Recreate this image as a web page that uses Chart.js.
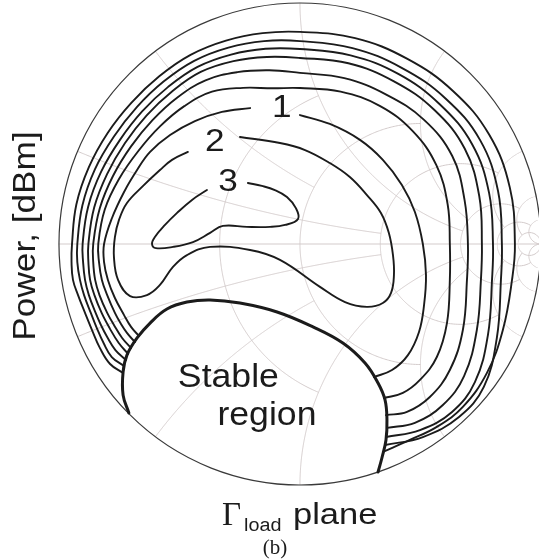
<!DOCTYPE html>
<html><head><meta charset="utf-8">
<script src="https://cdn.jsdelivr.net/npm/chart.js@4/dist/chart.umd.min.js"></script>
<style>html,body{margin:0;padding:0;background:#fff;overflow:hidden}canvas{display:block}</style>
</head><body>
<canvas id="c" width="539" height="560"></canvas>
<script>
// ---- Data: reflection-coefficient coordinates [Re(Γ), Im(Γ)] ----
const stableBoundary = [[-0.710,-0.701],[-0.734,-0.627],[-0.734,-0.531],[-0.718,-0.461],[-0.676,-0.390],[-0.622,-0.328],[-0.552,-0.270],[-0.469,-0.241],[-0.373,-0.232],[-0.249,-0.245],[-0.095,-0.282],[0.054,-0.344],[0.178,-0.411],[0.270,-0.494],[0.324,-0.577],[0.353,-0.647],[0.361,-0.730],[0.357,-0.813],[0.340,-0.888],[0.324,-0.946]];

const contour1Left = [[-0.207,0.564],[-0.324,0.548],[-0.436,0.510],[-0.539,0.452],[-0.622,0.382],[-0.676,0.307],[-0.730,0.216],[-0.780,0.108],[-0.813,0],[-0.813,-0.075],[-0.797,-0.149],[-0.768,-0.224],[-0.730,-0.295],[-0.701,-0.344],[-0.668,-0.382]];
const contour1Right = [[0,0.535],[0.124,0.498],[0.249,0.432],[0.344,0.349],[0.423,0.245],[0.477,0.133],[0.510,0],[0.523,-0.129],[0.515,-0.253],[0.494,-0.365],[0.448,-0.461],[0.382,-0.523],[0.307,-0.552]];

const contour2 = [[-0.465,0.382],[-0.531,0.349],[-0.581,0.307],[-0.651,0.241],[-0.718,0.170],[-0.751,0.100],[-0.768,0.029],[-0.772,-0.054],[-0.755,-0.149],[-0.705,-0.216],[-0.635,-0.212],[-0.581,-0.170],[-0.527,-0.095],[-0.469,-0.046],[-0.373,-0.012],[-0.207,-0.025],[-0.083,-0.066],[0.083,-0.178],[0.187,-0.241],[0.278,-0.261],[0.344,-0.245],[0.378,-0.203],[0.390,-0.129],[0.386,-0.046],[0.369,0.046],[0.336,0.129],[0.278,0.203],[0.207,0.278],[0.124,0.336],[0.021,0.390],[-0.083,0.419],[-0.249,0.444]];

const contour3 = [[-0.386,0.224],[-0.448,0.183],[-0.510,0.129],[-0.560,0.079],[-0.602,0.029],[-0.614,0],[-0.598,-0.017],[-0.527,-0.012],[-0.444,0.008],[-0.373,0.046],[-0.320,0.075],[-0.220,0.071],[-0.124,0.071],[-0.062,0.079],[-0.008,0.104],[-0.017,0.149],[-0.054,0.195],[-0.104,0.224],[-0.158,0.241],[-0.216,0.253]];

const outer1 = [[-0.685,-0.407],[-0.718,-0.369],[-0.745,-0.328],[-0.768,-0.286],[-0.800,-0.212],[-0.822,-0.149],[-0.834,-0.075],[-0.837,0],[-0.810,0.143],[-0.749,0.273],[-0.670,0.387],[-0.581,0.488],[-0.480,0.572],[-0.365,0.632],[-0.236,0.648],[-0.114,0.646],[0,0.647],[0.169,0.632],[0.331,0.573],[0.468,0.468],[0.566,0.327],[0.613,0.164],[0.622,0],[0.622,-0.149],[0.610,-0.328],[0.568,-0.469],[0.498,-0.564],[0.427,-0.618],[0.349,-0.639]];

const outer2 = [[-0.701,-0.432],[-0.738,-0.390],[-0.772,-0.336],[-0.800,-0.286],[-0.832,-0.212],[-0.850,-0.149],[-0.858,-0.075],[-0.858,0],[-0.831,0.147],[-0.776,0.282],[-0.701,0.405],[-0.612,0.514],[-0.510,0.607],[-0.392,0.679],[-0.260,0.713],[-0.127,0.721],[0,0.710],[0.184,0.688],[0.358,0.620],[0.515,0.515],[0.632,0.365],[0.683,0.183],[0.697,0],[0.693,-0.149],[0.676,-0.357],[0.622,-0.523],[0.539,-0.635],[0.444,-0.697],[0.357,-0.710]];

const outer3 = [[-0.713,-0.456],[-0.752,-0.411],[-0.790,-0.349],[-0.823,-0.286],[-0.853,-0.212],[-0.871,-0.149],[-0.878,-0.075],[-0.878,0],[-0.854,0.151],[-0.800,0.291],[-0.726,0.419],[-0.636,0.534],[-0.531,0.633],[-0.412,0.714],[-0.276,0.759],[-0.137,0.776],[0,0.772],[0.201,0.750],[0.390,0.675],[0.557,0.557],[0.684,0.395],[0.744,0.199],[0.755,0],[0.751,-0.149],[0.734,-0.357],[0.681,-0.548],[0.593,-0.668],[0.477,-0.742],[0.361,-0.763]];

const outer4 = [[-0.722,-0.481],[-0.766,-0.440],[-0.800,-0.386],[-0.826,-0.336],[-0.848,-0.286],[-0.876,-0.212],[-0.892,-0.149],[-0.900,-0.075],[-0.902,0],[-0.879,0.155],[-0.825,0.300],[-0.747,0.432],[-0.655,0.550],[-0.547,0.652],[-0.425,0.735],[-0.286,0.786],[-0.143,0.810],[0,0.809],[0.210,0.783],[0.408,0.706],[0.580,0.580],[0.715,0.413],[0.785,0.211],[0.801,0],[0.797,-0.149],[0.780,-0.378],[0.726,-0.573],[0.631,-0.697],[0.498,-0.772],[0.357,-0.801]];

const outer5 = [[-0.730,-0.506],[-0.781,-0.469],[-0.815,-0.411],[-0.843,-0.349],[-0.868,-0.286],[-0.896,-0.212],[-0.913,-0.149],[-0.924,-0.075],[-0.924,0],[-0.903,0.160],[-0.851,0.310],[-0.772,0.446],[-0.677,0.568],[-0.566,0.674],[-0.439,0.760],[-0.297,0.815],[-0.149,0.842],[0,0.842],[0.218,0.813],[0.422,0.731],[0.604,0.604],[0.747,0.432],[0.822,0.220],[0.838,0],[0.834,-0.149],[0.817,-0.390],[0.763,-0.593],[0.660,-0.718],[0.510,-0.801],[0.353,-0.834]];

const outer6 = [[-0.734,-0.535],[-0.788,-0.498],[-0.830,-0.432],[-0.863,-0.357],[-0.892,-0.286],[-0.921,-0.212],[-0.942,-0.149],[-0.948,-0.075],[-0.946,0],[-0.928,0.164],[-0.876,0.319],[-0.798,0.461],[-0.699,0.587],[-0.584,0.696],[-0.454,0.785],[-0.307,0.844],[-0.155,0.875],[0,0.880],[0.229,0.854],[0.444,0.769],[0.635,0.635],[0.785,0.454],[0.871,0.234],[0.892,0],[0.880,-0.149],[0.842,-0.357],[0.776,-0.535],[0.676,-0.676],[0.568,-0.759],[0.456,-0.813],[0.344,-0.863]];

// Contour labels and region label (text + anchor in Γ coordinates)
const contourLabels = ['1', '2', '3'];
const contourLabelPos = [[-0.075,0.564],[-0.353,0.423],[-0.299,0.257]];
const regionLines = ['Stable', 'region'];
const regionPos = [[-0.297,-0.593],[-0.137,-0.751]];

// Smith chart grid: constant-resistance circles and constant-reactance arcs with their extents
const gridR = [0.5, 1, 2, 5, 10, 20];
const gridRExtent = [1, 2, 5, 10, 20, Infinity];
const gridX = [0.2, 0.5, 1, 2, 5, 10, 20];
const gridXExtent = [2, 1, 5, 5, 10, 20, Infinity];

const yTitle = 'Power, [dBm]';
const xTitleSymbol = 'Γ';
const xTitleSub = 'load';
const xTitleRest = 'plane';
const panelTag = '(b)';

// ---- helpers ----
function gam(r, x) {
  const den = (r + 1) * (r + 1) + x * x;
  return [(r * r - 1 + x * x) / den, (2 * x) / den];
}
const toXY = arr => arr.map(p => ({x: p[0], y: p[1]}));
const GRID = '#d3cbcb';
const INK = '#1b1b1b';

function ds(arr, w) {
  return {data: toXY(arr), showLine: true, borderColor: INK, borderWidth: w,
    pointRadius: 0, tension: 0.4, fill: false, borderCapStyle: 'round', borderJoinStyle: 'round'};
}

const smithGrid = {
  id: 'smithGrid',
  beforeDatasetsDraw(chart) {
    const ctx = chart.ctx, sx = chart.scales.x, sy = chart.scales.y;
    const P = g => [sx.getPixelForValue(g[0]), sy.getPixelForValue(g[1])];
    ctx.save();
    ctx.strokeStyle = GRID; ctx.lineWidth = 1;
    const N = 400;
    gridR.forEach((r, i) => {
      const lim = gridRExtent[i];
      const T = isFinite(lim) ? Math.atan(lim) : Math.PI / 2 - 1e-4;
      ctx.beginPath();
      for (let k = 0; k <= N; k++) {
        const t = -T + 2 * T * k / N;
        const p = P(gam(r, Math.tan(t)));
        k ? ctx.lineTo(p[0], p[1]) : ctx.moveTo(p[0], p[1]);
      }
      ctx.stroke();
    });
    gridX.forEach((xv, i) => {
      const lim = gridXExtent[i];
      const T = isFinite(lim) ? Math.atan(lim) : Math.PI / 2 - 1e-4;
      [xv, -xv].forEach(xs => {
        ctx.beginPath();
        for (let k = 0; k <= N; k++) {
          const t = T * k / N;
          const p = P(gam(Math.tan(t), xs));
          k ? ctx.lineTo(p[0], p[1]) : ctx.moveTo(p[0], p[1]);
        }
        ctx.stroke();
      });
    });
    ctx.beginPath();
    const a = P([-1, 0]), b = P([1, 0]);
    ctx.moveTo(a[0], a[1]); ctx.lineTo(b[0], b[1]); ctx.stroke();
    const c = P([0, 0]);
    const R = sy.getPixelForValue(0) - sy.getPixelForValue(1);
    ctx.strokeStyle = '#3a3a3a'; ctx.lineWidth = 1.2;
    ctx.beginPath(); ctx.arc(c[0], c[1], R, 0, Math.PI * 2); ctx.stroke();
    ctx.restore();
  },
  afterDatasetsDraw(chart) {
    const ctx = chart.ctx, sx = chart.scales.x, sy = chart.scales.y;
    const P = g => [sx.getPixelForValue(g[0]), sy.getPixelForValue(g[1])];
    const txt = (s, x, y, font, scale, align, base) => {
      ctx.save(); ctx.translate(x, y); ctx.scale(scale, 1);
      ctx.font = font; ctx.textAlign = align; ctx.textBaseline = base;
      ctx.fillText(s, 0, 0); ctx.restore();
    };
    ctx.save();
    ctx.fillStyle = INK;
    contourLabels.forEach((s, i) => {
      const p = P(contourLabelPos[i]);
      txt(s, p[0], p[1], '32px "Liberation Sans", Arial, sans-serif', 1.1, 'center', 'middle');
    });
    regionLines.forEach((s, i) => {
      const p = P(regionPos[i]);
      txt(s, p[0], p[1], '33px "Liberation Sans", Arial, sans-serif', 1.08, 'center', 'alphabetic');
    });
    ctx.save();
    ctx.translate(35, 236); ctx.rotate(-Math.PI / 2); ctx.scale(1.1, 1);
    ctx.font = '32px "Liberation Sans", Arial, sans-serif';
    ctx.textAlign = 'center'; ctx.textBaseline = 'alphabetic';
    ctx.fillText(yTitle, 0, 0);
    ctx.restore();
    txt(xTitleSymbol, 222, 525, '33px "Liberation Serif", "Times New Roman", serif', 1.0, 'left', 'alphabetic');
    txt(xTitleSub, 244, 531, '18px "Liberation Sans", Arial, sans-serif', 1.1, 'left', 'alphabetic');
    txt(xTitleRest, 293, 524, '30px "Liberation Sans", Arial, sans-serif', 1.15, 'left', 'alphabetic');
    txt(panelTag, 275, 554, '21px "Liberation Serif", "Times New Roman", serif', 1.0, 'center', 'alphabetic');
    ctx.restore();
  }
};

new Chart(document.getElementById('c'), {
  type: 'scatter',
  data: {datasets: [
    ds(outer6, 1.9), ds(outer5, 1.9), ds(outer4, 1.9), ds(outer3, 1.9), ds(outer2, 1.9), ds(outer1, 1.9),
    ds(contour1Left, 1.9), ds(contour1Right, 1.9), ds(contour2, 1.9), ds(contour3, 1.9),
    ds(stableBoundary, 3)
  ]},
  options: {
    responsive: false, animation: false, events: [],
    layout: {padding: {left: 59, right: 0, top: 3, bottom: 75}},
    plugins: {legend: {display: false}, tooltip: {enabled: false}, title: {display: false}},
    scales: {
      x: {type: 'linear', min: -1, max: 0.992, display: false},
      y: {type: 'linear', min: -1, max: 1, display: false}
    }
  },
  plugins: [smithGrid]
});
</script>
</body></html>
